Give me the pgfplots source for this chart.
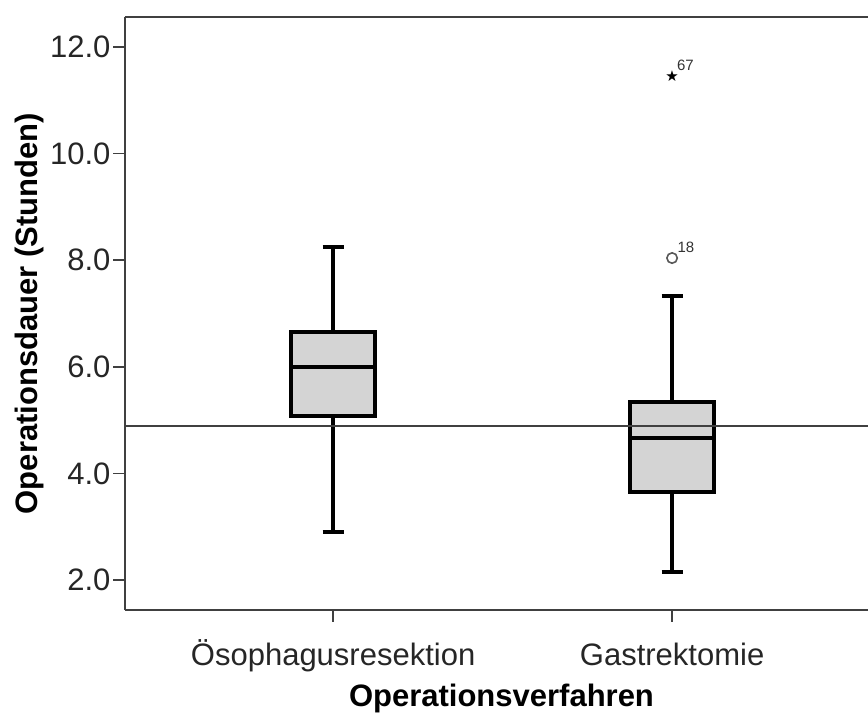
\documentclass[border=0pt]{standalone}
\usepackage{pgfplots}
\pgfplotsset{compat=1.18}
\usepgfplotslibrary{statistics}
\usepackage{fontspec}
\setmainfont{Liberation Sans}
\newfontfamily\symfont{DejaVu Sans}

\begin{document}
\begin{tikzpicture}
\begin{axis}[
  name=ax,
  scale only axis,
  width=371.5pt, height=296.5pt,
  xmin=0.386, xmax=2.578,
  ymin=1.44, ymax=12.56,
  axis x line*=box, axis y line*=left,
  axis line style={black!75, line width=0.75pt},
  xtick={1,2},
  xticklabels={Ösophagusresektion, Gastrektomie},
  xtick pos=bottom,
  ytick={2,4,6,8,10,12},
  tick align=outside,
  major tick length=5.75pt,
  tick style={black!75, line width=0.75pt},
  /pgf/number format/assume math mode=true,
  ticklabel style={font=\fontsize{15.5}{18}\selectfont, text=black!85},
  yticklabel style={xshift=2pt, /pgf/number format/.cd, fixed, fixed zerofill, precision=1},
  xticklabel style={text height=13pt, text depth=3.5pt, anchor=north, yshift=-5.5pt},
  xlabel={Operationsverfahren},
  ylabel={Operationsdauer (Stunden)},
  label style={font=\bfseries\fontsize{15.5}{18}\selectfont},
  x label style={at={(axis description cs:0.5067,-0.1619)}, anchor=base},
  y label style={at={(axis description cs:-0.1285,0.5)}, anchor=center},
  boxplot/draw direction=y,
  boxplot/box extend=0.25,
  boxplot/whisker extend=0.062,
  boxplot/every box/.style={fill=black!17},
  clip=false,
]
% Ösophagusresektion
\addplot[black, line width=2pt, mark=none,
  boxplot prepared={lower whisker=2.9, lower quartile=5.08, median=6.0,
    upper quartile=6.65, upper whisker=8.25, draw position=1}]
  coordinates {};
% Gastrektomie
\addplot[black, line width=2pt, mark=none,
  boxplot prepared={lower whisker=2.15, lower quartile=3.65, median=4.66,
    upper quartile=5.34, upper whisker=7.33, draw position=2}]
  coordinates {};
% Ausreißer (Kreis) und Extremwert (Stern)
\addplot[only marks, mark=o, mark size=2.6pt, black!65, line width=0.8pt,
  nodes near coords, point meta=explicit symbolic,
  every node near coord/.style={anchor=south west, xshift=-1pt, yshift=-1pt,
    font=\fontsize{7.5}{9}\selectfont, text=black!80}]
  coordinates {(2,8.04) [18]};
\addplot[only marks, black!80, mark=text,
  text mark={\symfont\fontsize{7.5}{9}\selectfont ★},
  nodes near coords, point meta=explicit symbolic,
  every node near coord/.style={anchor=south west, xshift=-1pt, yshift=-1pt,
    font=\fontsize{7.5}{9}\selectfont, text=black!80}]
  coordinates {(2,11.46) [67]};
% Referenzlinie
\addplot[black!75, line width=0.75pt, mark=none] coordinates {(0.386,4.89) (2.578,4.89)};
\end{axis}
\pgfresetboundingbox
\path[use as bounding box] ([shift={(-62.5pt,-51.5pt)}]ax.south west) rectangle ([shift={(0pt,8.5pt)}]ax.north east);
\end{tikzpicture}
\end{document}
